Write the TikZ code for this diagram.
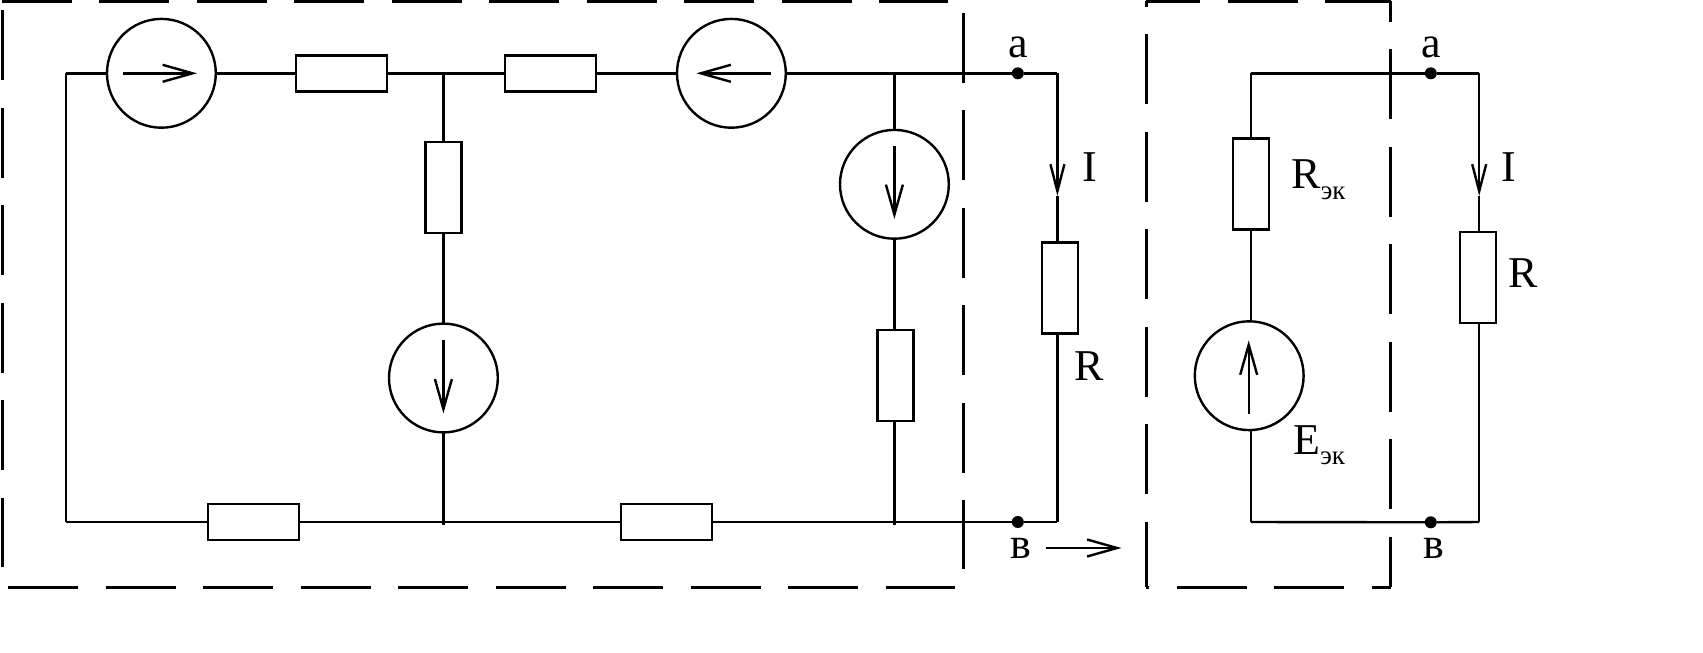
\documentclass[tikz,border=0pt]{standalone}
\usepackage{fontspec}
\setmainfont{Liberation Serif}
\usetikzlibrary{arrows.meta}
\tikzset{
  wire/.style={line width=1.2pt,line join=miter},
  hres/.style={draw,line width=1.2pt,rectangle,minimum width=45.5pt,minimum height=18pt,inner sep=0pt,outer sep=0pt},
  vres/.style={draw,line width=1.2pt,rectangle,minimum width=18pt,minimum height=45.5pt,inner sep=0pt,outer sep=0pt},
  src/.style={draw,line width=1.2pt,circle,minimum size=54.4pt,inner sep=0pt,outer sep=0pt},
  term/.style={fill=black,circle,minimum size=6pt,inner sep=0pt,outer sep=0pt},
  srcarrow/.style={line width=1.2pt,-{Straight Barb[length=15pt,width=8.5pt,line width=1.2pt]}},
  wirearrow/.style={line width=1.2pt,-{Straight Barb[length=13.5pt,width=7pt,line width=1.2pt]}},
  boxline/.style={line width=1.5pt,dash pattern=on 35pt off 13.75pt},
  lab/.style={anchor=base west,inner sep=0pt,outer sep=0pt,font=\fontsize{22}{24}\selectfont},
}
\newcommand{\eksub}[1]{\lower#1\hbox{\fontsize{13.5}{14}\selectfont эк}}
\begin{document}
\begin{tikzpicture}[x=0.5pt,y=-0.5pt]
\useasboundingbox (0,0) rectangle (1703,653);
% dashed boxes
\coordinate (LT1) at (1.5,1.4); \coordinate (LT2) at (948,1.4);
\coordinate (LB1) at (8,587);   \coordinate (LB2) at (955,587);
\coordinate (LL1) at (2,10);    \coordinate (LL2) at (2,567);
\coordinate (LR1) at (963.4,12.5); \coordinate (LR2) at (963.4,569);
\draw[boxline] (LT1) -- (LT2);
\draw[boxline] (LB1) -- (LB2);
\draw[boxline] (LL1) -- (LL2);
\draw[boxline] (LR1) -- (LR2);
\coordinate (BA) at (1146,1.4); \coordinate (BB) at (1390.6,1.4);
\coordinate (BC) at (1390.6,587); \coordinate (BD) at (1146,587);
\draw[boxline,dash phase=8pt] (BA) -- (BB);
\draw[boxline,dash phase=24.85pt] (BB) -- (BC);
\draw[boxline,dash phase=33.5pt] (BD) -- (BC);
\draw[boxline,dash phase=32.35pt] (BA) -- (BD);
% left circuit
\coordinate (tl) at (65.7,73.3);
\coordinate (bl) at (65.7,522);
\node[src] (c1) at (161.4,73.3) {};
\node[hres] (r1) at (341.5,73.3) {};
\coordinate (jt) at (443.4,73.3);
\node[hres] (r2) at (550.7,73.3) {};
\node[src] (c2) at (731.4,73.3) {};
\coordinate (jr) at (894.4,73.3);
\node[term] (a1) at (1017.8,73.3) {};
\coordinate (tr) at (1057.4,73.3);
\node[vres] (r3) at (443.4,187.2) {};
\node[src] (c3) at (443.4,378) {};
\coordinate (jb) at (443.4,522);
\coordinate (jbx) at (443.4,525);
\node[hres] (b1) at (253.5,522) {};
\node[hres] (b2) at (666.5,522) {};
\coordinate (jq) at (894.4,522);
\coordinate (jqx) at (894.4,525);
\node[src] (c4) at (894.4,184.3) {};
\node[vres] (r5) at (895.4,375.7) {};
\node[term] (b3) at (1017.8,522) {};
\coordinate (br) at (1057.4,522);
\node[vres] (R1) at (1059.85,287.8) {};
\coordinate (i1) at (1057.4,196);
\draw[wire] (tl) -- (c1);
\draw[wire] (c1) -- (r1);
\draw[wire] (r1) -- (jt);
\draw[wire] (jt) -- (r2);
\draw[wire] (r2) -- (c2);
\draw[wire] (c2) -- (jr);
\draw[wire] (jr) -- (a1);
\draw[wire] (a1) -- (tr);
\draw[wire] (tl) -- (bl);
\draw[wire] (jt) -- (r3);
\draw[wire] (r3) -- (c3);
\draw[wire] (c3) -- (jbx);
\draw[wire] (bl) -- (b1);
\draw[wire] (b1) -- (jb);
\draw[wire] (jb) -- (b2);
\draw[wire] (b2) -- (jq);
\draw[wire] (jq) -- (b3);
\draw[wire] (b3) -- (br);
\draw[wire] (jr) -- (c4);
\draw[wire] (c4.south) -- (c4.south |- r5.north);
\draw[wire] (c4.south |- r5.south) -- (jqx);
\draw[wirearrow] (tr) -- (i1);
\draw[wire] (i1) -- (i1 |- R1.north);
\draw[wire] (br |- R1.south) -- (br);
% source arrows, left
\coordinate (c1s) at (122.8,73.3); \coordinate (c1e) at (197,73.3);
\coordinate (c2s) at (770.5,73.3); \coordinate (c2e) at (696.4,73.3);
\coordinate (c3s) at (443.4,339.5); \coordinate (c3e) at (443.4,413.5);
\coordinate (c4s) at (894.4,145.8); \coordinate (c4e) at (894.4,219);
\draw[srcarrow] (c1s) -- (c1e);
\draw[srcarrow] (c2s) -- (c2e);
\draw[srcarrow] (c3s) -- (c3e);
\draw[srcarrow] (c4s) -- (c4e);
% transfer arrow
\coordinate (ts) at (1045.5,548); \coordinate (te) at (1121.5,548);
\draw[srcarrow] (ts) -- (te);
% right circuit
\coordinate (tl2) at (1250.9,73.3);
\coordinate (bl2) at (1250.9,522);
\node[term] (a2) at (1430.8,73.3) {};
\node[term] (b4) at (1430.8,522.3) {};
\coordinate (tr2) at (1479.2,73.3);
\coordinate (br2) at (1479.2,522);
\node[vres] (Re) at (1251.2,183.9) {};
\node[src] (ce) at (1249.2,375.7) {};
\node[vres] (R2) at (1478.2,277.6) {};
\coordinate (i2) at (1479.2,196);
\draw[wire] (tl2) -- (a2);
\draw[wire] (a2) -- (tr2);
\draw[wire] (bl2) -- (b4);
\draw[wire] (b4) -- (br2);
\draw[wire] (tl2) -- (tl2 |- Re.north);
\draw[wire] (tl2 |- Re.south) -- (tl2 |- ce.north);
\draw[wire] (tl2 |- ce.south) -- (bl2);
\draw[wirearrow] (tr2) -- (i2);
\draw[wire] (i2) -- (i2 |- R2.north);
\draw[wire] (br2 |- R2.south) -- (br2);
\coordinate (ces) at (1248.7,414.4); \coordinate (cee) at (1248.7,340.4);
\draw[srcarrow] (ces) -- (cee);
% labels
\node[lab] (la1) at (1008,57) {а};
\node[lab] (lb1) at (1010.5,558) {в};
\node[lab] (li1) at (1082,181) {I};
\node[lab] (lr1) at (1074.5,380) {R};
\node[lab] (la2) at (1421.5,57) {а};
\node[lab] (lb2) at (1423.5,558) {в};
\node[lab] (li2) at (1501.7,181) {I};
\node[lab] (lr2) at (1508,287.4) {R};
\node[lab] (lre) at (1291.5,188.7) {R\eksub{5.6pt}};
\node[lab] (lee) at (1293.5,454) {E\eksub{5.2pt}};
\end{tikzpicture}
\end{document}
